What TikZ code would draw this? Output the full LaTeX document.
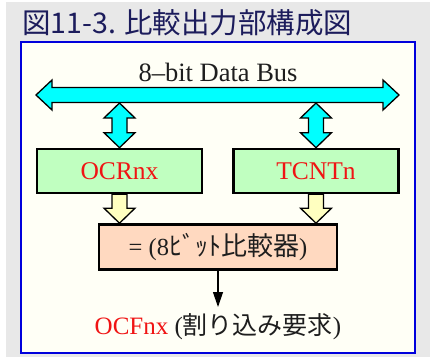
\documentclass[tikz,border=0pt]{standalone}
\usepackage{fontspec}
\setmainfont{Liberation Serif}
\newfontfamily\cjk{Noto Sans CJK JP}
\usetikzlibrary{calc,arrows.meta}

\definecolor{pagegray}{RGB}{232,232,232}
\definecolor{panelfill}{RGB}{255,255,246}
\definecolor{panelblue}{RGB}{0,0,220}
\definecolor{titleink}{RGB}{28,28,92}
\definecolor{busfill}{RGB}{0,255,255}
\definecolor{regfill}{RGB}{192,255,192}
\definecolor{flowfill}{RGB}{255,255,192}
\definecolor{cmpfill}{RGB}{255,217,192}
\definecolor{regred}{RGB}{240,20,20}
\definecolor{textink}{RGB}{30,30,30}

\tikzset{
  blockarrow/.style={draw=black, line width=1.3pt, line join=miter},
  regbox/.style={draw=black, line width=2.6pt, fill=regfill, minimum width=165pt,
    minimum height=44pt, inner sep=0pt, font=\fontsize{25.5}{28}\selectfont, text=regred},
  cmpbox/.style={draw=black, line width=2.6pt, fill=cmpfill, minimum width=238pt,
    minimum height=45pt, inner sep=0pt, font=\fontsize{24.5}{28}\selectfont, text=textink},
  plain/.style={inner sep=0pt, text=textink},
}

% vertical double-headed block arrow between two points (tip to tip)
\newcommand\vdoublearrow[3]{%
  \path[blockarrow, fill=#3] let \p1=(#1), \p2=(#2) in
    (\x2,\y1) -- ++(15.5pt,-15pt) -- ++(-8pt,0pt) -- (\x2+7.5pt,\y2+15pt)
    -- ++(8pt,0pt) -- (\x2,\y2) -- ++(-15.5pt,15pt) -- ++(8pt,0pt)
    -- (\x2-7.5pt,\y1-15pt) -- ++(-8pt,0pt) -- cycle;}
% downward single block arrow from a box edge to a tip point
\newcommand\vsinglearrow[3]{%
  \path[blockarrow, fill=#3] let \p1=(#1), \p2=(#2) in
    (\x2-7.5pt,\y1) -- (\x2+7.5pt,\y1) -- (\x2+7.5pt,\y2+15pt) -- ++(8pt,0pt)
    -- (\x2,\y2) -- ++(-15.5pt,15pt) -- ++(8pt,0pt) -- cycle;}

\begin{document}
\begin{tikzpicture}[x=1pt,y=-1pt]
  \useasboundingbox (0,0) rectangle (433,359);
  \fill[pagegray] (6,2) rectangle (430,357);

  % title
  \node[anchor=west, inner sep=0pt, text=titleink, font=\cjk\fontsize{28.5}{30}\selectfont]
    (title) at (22,22.5) {図11-3. 比較出力部構成図};

  % panel
  \draw[panelblue, line width=1.6pt, fill=panelfill] (21,42) rectangle (415,353);

  % data bus
  \node[plain, font=\fontsize{26.5}{30}\selectfont] (buslabel) at (218,72) {8--bit Data Bus};
  \coordinate (busL) at (36,95);
  \coordinate (busR) at (399,95);
  \coordinate (busbot) at (0,103);
  \path[blockarrow, fill=busfill] let \p1=(busL), \p2=(busR) in
    (\p1) -- (\x1+16pt,\y1+15pt) -- (\x1+16pt,\y1+7.5pt) -- (\x2-16pt,\y2+7.5pt)
    -- (\x2-16pt,\y2+15pt) -- (\p2) -- (\x2-16pt,\y2-15pt) -- (\x2-16pt,\y2-7.5pt)
    -- (\x1+16pt,\y1-7.5pt) -- (\x1+16pt,\y1-15pt) -- cycle;

  % registers
  \node[regbox] (ocr) at (119.5,171) {OCRnx};
  \node[regbox] (tcnt) at (316,171) {TCNTn};

  % comparator
  \node[cmpbox] (cmp) at (218,247) {= (8{\cjk\fontsize{26}{28}\selectfont ﾋﾞｯﾄ比較器})};

  % interrupt request output
  \node[plain, font=\fontsize{25}{28}\selectfont] (ocf) at (218,327)
    {\textcolor{regred}{OCFnx} ({\cjk 割り込み要求})};

  % bus <-> register arrows
  \vdoublearrow{ocr.north |- busbot}{ocr.north}{busfill}
  \vdoublearrow{tcnt.north |- busbot}{tcnt.north}{busfill}

  % register -> comparator arrows
  \vsinglearrow{ocr.south}{ocr.south |- cmp.north}{flowfill}
  \vsinglearrow{tcnt.south}{tcnt.south |- cmp.north}{flowfill}

  % comparator -> flag
  \draw[line width=1.2pt, -{Triangle[length=15pt,width=10pt]}] (cmp.south) -- (cmp.south |- 0,307);
\end{tikzpicture}
\end{document}
